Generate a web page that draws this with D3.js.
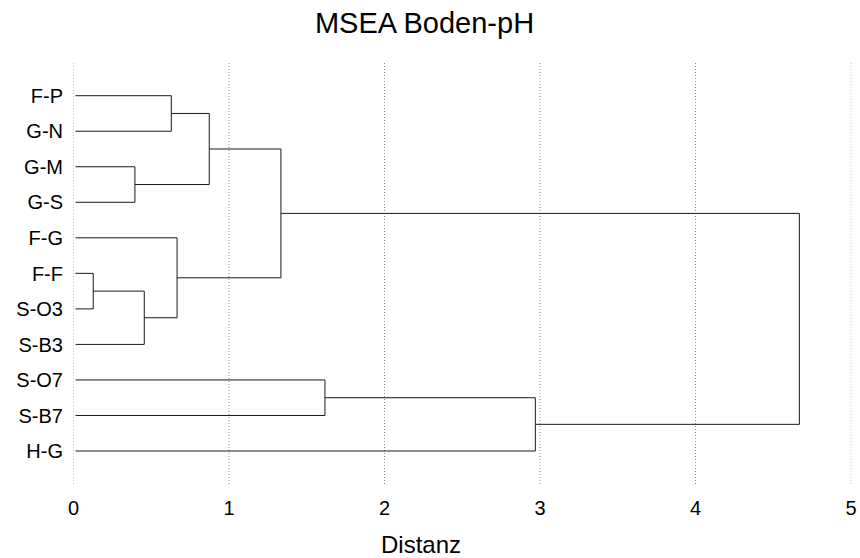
<!DOCTYPE html>
<html>
<head>
<meta charset="utf-8">
<script src="https://cdn.jsdelivr.net/npm/d3@7"></script>
<style>
  html, body { margin: 0; padding: 0; background: #fff; }
  svg { display: block; font-family: "Liberation Sans", Arial, Helvetica, sans-serif; }
</style>
</head>
<body>
<svg id="chart" width="860" height="558"></svg>
<script>
// ---- data ----
const title = "MSEA Boden-pH";
const xLabel = "Distanz";
const leaves = ["F-P", "G-N", "G-M", "G-S", "F-G", "F-F", "S-O3", "S-B3", "S-O7", "S-B7", "H-G"];
// R-style merge matrix: negative = leaf (1-based), positive = earlier merge (1-based)
const merges = [[-1, -2], [-3, -4], [1, 2], [-6, -7], [-8, 4], [-5, 5], [3, 6], [-9, -10], [-11, 8], [7, 9]];
const heights = [0.629, 0.395, 0.873, 0.127, 0.455, 0.666, 1.334, 1.617, 2.970, 4.668];
const xTicks = [0, 1, 2, 3, 4, 5];

// ---- layout ----
const svg = d3.select("#chart");
const x = d3.scaleLinear().domain([0, 5]).range([73.5, 851]);
const y = d3.scalePoint().domain(leaves).range([95.7, 451]);

// grid
svg.append("g").selectAll("line").data(xTicks).join("line")
  .attr("x1", d => x(d)).attr("x2", d => x(d))
  .attr("y1", 63).attr("y2", 486)
  .attr("stroke", d => (d === 0 || d === 5) ? "#c8c8c8" : "#8a8a8a")
  .attr("stroke-width", 1)
  .attr("stroke-dasharray", "1,2");

// node positions
const nodes = merges.map(() => null);
function pos(ref) {
  if (ref < 0) return { x: x(0) + 2, y: y(leaves[-ref - 1]) };
  return nodes[ref - 1];
}
const segs = [];
merges.forEach((m, i) => {
  const a = pos(m[0]), b = pos(m[1]);
  const hx = x(heights[i]);
  nodes[i] = { x: hx, y: (a.y + b.y) / 2 };
  segs.push([[a.x, a.y], [hx, a.y], [hx, b.y], [b.x, b.y]]);
});

svg.append("g").selectAll("path").data(segs).join("path")
  .attr("d", d => d3.line()(d))
  .attr("fill", "none")
  .attr("stroke", "#1a1a1a")
  .attr("stroke-width", 1);

// leaf labels
svg.append("g").selectAll("text").data(leaves).join("text")
  .attr("x", x(0) - 10.5)
  .attr("y", d => y(d))
  .attr("dy", "0.36em")
  .attr("text-anchor", "end")
  .attr("font-size", 20)
  .attr("fill", "#000")
  .text(d => d);

// x tick labels
svg.append("g").selectAll("text").data(xTicks).join("text")
  .attr("x", d => x(d))
  .attr("y", 515)
  .attr("text-anchor", "middle")
  .attr("font-size", 20)
  .attr("fill", "#000")
  .text(d => d);

// axis title
svg.append("text")
  .attr("x", 421).attr("y", 553)
  .attr("text-anchor", "middle")
  .attr("font-size", 24)
  .attr("fill", "#000")
  .text(xLabel);

// main title
svg.append("text")
  .attr("x", 424.5).attr("y", 33)
  .attr("text-anchor", "middle")
  .attr("font-size", 29)
  .attr("fill", "#000")
  .text(title);
</script>
</body>
</html>
